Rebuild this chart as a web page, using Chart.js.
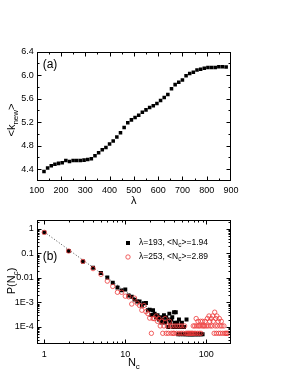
<!DOCTYPE html>
<html>
<head>
<meta charset="utf-8">
<script src="https://cdn.jsdelivr.net/npm/chart.js@4/dist/chart.umd.min.js"></script>
<style>
html, body { margin: 0; padding: 0; background: #fff; }
#wrap { position: relative; width: 291px; height: 376px; }
#boxA { position: absolute; left: 0; top: 0; width: 291px; height: 212px; }
#boxB { position: absolute; left: 0; top: 212px; width: 291px; height: 164px; }
</style>
</head>
<body>
<div id="wrap">
  <div id="boxA"><canvas id="chartA"></canvas></div>
  <div id="boxB"><canvas id="chartB"></canvas></div>
</div>
<script>
// panel (a): <k_new> vs lambda
const lam = [130, 145, 160, 175, 190, 205, 220, 235, 250, 265, 280, 295, 310, 325, 340, 355, 370, 385, 400, 415,
  430, 445, 460, 475, 490, 505, 520, 535, 550, 565, 580, 595, 610, 625, 640, 655, 670, 685, 700, 715,
  730, 745, 760, 775, 790, 805, 820, 835, 850, 865, 880];
const kNew = [4.36, 4.42, 4.46, 4.485, 4.50, 4.51, 4.55, 4.53, 4.55, 4.55, 4.55, 4.555, 4.565, 4.58, 4.63, 4.68, 4.73, 4.77, 4.83, 4.88,
  4.95, 5.02, 5.11, 5.19, 5.24, 5.28, 5.32, 5.37, 5.41, 5.45, 5.48, 5.52, 5.57, 5.62, 5.67, 5.77, 5.84, 5.88, 5.92, 5.99,
  6.03, 6.05, 6.09, 6.10, 6.12, 6.13, 6.13, 6.13, 6.145, 6.145, 6.14];
const xTicksA = [100, 200, 300, 400, 500, 600, 700, 800, 900];
const xMinorA = [150, 250, 350, 450, 550, 650, 750, 850];
const yTicksA = [4.4, 4.8, 5.2, 5.6, 6.0, 6.4];
const yMinorA = [4.2, 4.6, 5.0, 5.4, 5.8, 6.2];

// panel (b): P(N_c) vs N_c
const blackN = [1, 2, 3, 4, 5, 6, 7, 8, 9, 10, 11, 12, 13, 14, 15, 16, 17, 18, 19, 20,
  21, 22, 23, 24, 25, 26, 27, 28, 29, 30, 31, 32, 33, 34, 35, 36, 37, 38, 39, 40,
  41, 42, 43, 44, 45, 46, 47, 48, 49, 50, 52, 53, 55, 57, 58, 60, 62, 64, 66, 68, 70, 73, 76, 79, 82, 86, 90];
const blackP = [0.72, 0.125, 0.047, 0.026, 0.016, 0.0105, 0.0063, 0.0041, 0.0031, 0.0034, 0.0019, 0.0017, 0.0013, 0.0011, 0.0011, 0.00075, 0.00093, 0.00095, 0.00048, 0.0005,
  3.1e-4, 4.8e-4, 3.5e-4, 2.5e-4, 3e-4, 2e-4, 2.5e-4, 1.5e-4, 2e-4, 3e-4, 1.5e-4, 2.5e-4, 2e-4, 1e-4, 3.5e-4, 1.5e-4, 2e-4, 2.5e-4, 1e-4, 4e-4,
  1.5e-4, 4e-4, 1e-4, 1.5e-4, 5e-5, 2e-4, 1e-4, 5e-5, 1e-4, 1.5e-4, 5e-5, 1e-4, 5e-5, 2e-4, 5e-5, 5e-5, 5e-5, 5e-5, 5e-5, 5e-5, 5e-5, 5e-5, 5e-5, 5e-5, 5e-5, 5e-5, 5e-5];
const redN = [1, 2, 3, 4, 5, 6, 7, 8, 9, 10, 11, 12, 13, 14, 15, 16, 17, 18, 19, 20,
  21, 22, 23, 24, 25, 26, 27, 28, 29, 30, 31, 32, 33, 34, 35, 36, 37, 38, 39, 40,
  41, 43, 44, 46, 47, 49, 50, 52, 54, 56, 58, 60, 62, 64, 66, 68, 69, 71, 72, 74,
  75, 76, 78, 79, 80, 82, 83, 85, 86, 88, 90, 92, 95, 97, 100, 103, 105, 108, 110, 112,
  115, 118, 120, 122, 125, 127, 129, 131, 133, 135, 137, 140, 142, 145, 148, 150, 153, 156, 160, 165,
  170, 175, 180, 185];
const redP = [0.72, 0.125, 0.047, 0.024, 0.014, 0.0074, 0.0045, 0.0026, 0.0026, 0.0018, 0.0017, 0.00086, 0.0015, 0.00094, 0.00075, 0.00048, 0.00075, 0.00042, 0.00035, 0.00023,
  5.5e-5, 2.2e-4, 2.2e-4, 2.8e-4, 1.7e-4, 2.2e-4, 1.1e-4, 1.7e-4, 5.5e-5, 1.1e-4, 2.2e-4, 5.5e-5, 1.1e-4, 5.5e-5, 1.7e-4, 1.1e-4, 5.5e-5, 1.1e-4, 5.5e-5, 5.5e-5,
  1.1e-4, 5.5e-5, 1.1e-4, 5.5e-5, 1.1e-4, 5.5e-5, 1.1e-4, 5.5e-5, 1.1e-4, 5.5e-5, 5.5e-5, 5.5e-5, 5.5e-5, 5.5e-5, 5.5e-5, 5.5e-5, 1.1e-4, 5.5e-5, 1.1e-4, 5.5e-5,
  2.2e-4, 1.1e-4, 5.5e-5, 1.7e-4, 1.1e-4, 5.5e-5, 1.1e-4, 1.7e-4, 5.5e-5, 1.1e-4, 1.7e-4, 1.1e-4, 1.1e-4, 1.7e-4, 1.1e-4, 2.2e-4, 1.1e-4, 2.8e-4, 1.7e-4, 1.1e-4,
  2.2e-4, 1.1e-4, 2.8e-4, 1.7e-4, 5.5e-5, 4e-4, 1.1e-4, 2.2e-4, 5.5e-5, 2.8e-4, 1.1e-4, 1.7e-4, 5.5e-5, 2.2e-4, 1.1e-4, 5.5e-5, 1.7e-4, 1.1e-4, 5.5e-5, 1.1e-4,
  5.5e-5, 5.5e-5, 5.5e-5, 5.5e-5];
const fitN = [1, 30];
const fitP = [0.75, 2.1e-4];
const xTicksB = [1, 10, 100];
const yTicksB = [1e-4, 1e-3, 0.01, 0.1, 1];
const yLabelsB = {'0.0001': '1E-4', '0.001': '1E-3', '0.01': '0.01', '0.1': '0.1', '1': '1'};

const FONT = "'Liberation Sans', Arial, sans-serif";
const RED = '#ee3b3b';

function minorLog(lo, hi) {
  const out = [];
  for (let d = lo; d <= hi; d *= 10) {
    for (let m = 2; m <= 9; m++) out.push(m * d);
  }
  return out;
}

function pts(xs, ys) {
  return xs.map((v, i) => ({x: v, y: ys[i]}));
}

// text with subscript parts: [[text, isSub], ...]
function partsWidth(ctx, parts, size, sub) {
  let w = 0;
  parts.forEach(p => {
    ctx.font = (p[1] ? sub : size) + 'px ' + FONT;
    w += ctx.measureText(p[0]).width;
  });
  return w;
}
function drawParts(ctx, x, y, parts, size, sub) {
  ctx.textBaseline = 'middle';
  ctx.textAlign = 'left';
  parts.forEach(p => {
    ctx.font = (p[1] ? sub : size) + 'px ' + FONT;
    ctx.fillText(p[0], x, p[1] ? y + size * 0.3 : y);
    x += ctx.measureText(p[0]).width;
  });
}

const framePlugin = {
  id: 'frame',
  afterDatasetsDraw(chart, args, o) {
    const {ctx, chartArea: a} = chart;
    const sx = chart.scales.x, sy = chart.scales.y;
    const L = Math.round(a.left) + 0.5, R = Math.round(a.right) - 0.5;
    const T = Math.round(a.top) + 0.5, B = Math.round(a.bottom) - 0.5;
    ctx.save();
    ctx.strokeStyle = '#000';
    ctx.lineWidth = 1;
    ctx.strokeRect(L, T, R - L, B - T);
    ctx.beginPath();
    const xt = (vals, len) => vals.forEach(v => {
      const p = Math.round(sx.getPixelForValue(v)) + 0.5;
      if (p < L || p > R) return;
      ctx.moveTo(p, B); ctx.lineTo(p, B - len);
      ctx.moveTo(p, T); ctx.lineTo(p, T + len);
    });
    const yt = (vals, len) => vals.forEach(v => {
      const p = Math.round(sy.getPixelForValue(v)) + 0.5;
      if (p < T || p > B) return;
      ctx.moveTo(L, p); ctx.lineTo(L + len, p);
      ctx.moveTo(R, p); ctx.lineTo(R - len, p);
    });
    xt(o.xMajor, 4); xt(o.xMinor, 2);
    yt(o.yMajor, 4); yt(o.yMinor, 2);
    ctx.stroke();
    ctx.restore();
  },
  afterDraw(chart, args, o) {
    const {ctx, chartArea: a} = chart;
    ctx.save();
    ctx.fillStyle = '#000';
    // panel tag
    ctx.font = '12px ' + FONT;
    ctx.textAlign = 'left';
    ctx.textBaseline = 'middle';
    ctx.fillText(o.tag, a.left + 6, a.top + o.tagDy);
    // x title
    const xw = partsWidth(ctx, o.xTitle, 11, 8);
    drawParts(ctx, (a.left + a.right) / 2 - xw / 2, a.bottom + o.xTitleDy, o.xTitle, 11, 8);
    // y title (rotated)
    ctx.save();
    ctx.translate(12, o.yTitleY);
    ctx.rotate(-Math.PI / 2);
    const yw = partsWidth(ctx, o.yTitle, 11, 8);
    drawParts(ctx, -yw / 2, 0, o.yTitle, 11, 8);
    ctx.restore();
    // legend
    if (o.legend) {
      o.legend.forEach(item => {
        const y = item.y;
        if (item.marker === 'square') {
          ctx.fillStyle = '#000';
          ctx.fillRect(126, y - 2, 4, 4);
        } else {
          ctx.strokeStyle = RED;
          ctx.lineWidth = 0.8;
          ctx.beginPath();
          ctx.arc(128, y, 2.2, 0, Math.PI * 2);
          ctx.stroke();
        }
        ctx.fillStyle = '#000';
        drawParts(ctx, 139, y, item.parts, 8.5, 6.5);
      });
    }
    ctx.restore();
  }
};

const tickFont = {family: FONT, size: 9};

new Chart(document.getElementById('chartA'), {
  type: 'scatter',
  data: {
    datasets: [{
      data: pts(lam, kNew),
      pointStyle: 'rect',
      pointRadius: 2.5,
      backgroundColor: '#000',
      borderWidth: 0
    }]
  },
  options: {
    responsive: true,
    maintainAspectRatio: false,
    animation: false,
    events: [],
    layout: {padding: {top: 51.7, right: 60, left: 0, bottom: 0}},
    scales: {
      x: {
        type: 'linear', min: 100, max: 900,
        afterBuildTicks: s => { s.ticks = xTicksA.map(v => ({value: v})); },
        afterFit: s => { s.height = 31; },
        grid: {display: false, drawTicks: false},
        border: {display: false},
        ticks: {font: tickFont, color: '#000', padding: 4, maxRotation: 0, autoSkip: false}
      },
      y: {
        type: 'linear', min: 4.2, max: 6.4,
        afterBuildTicks: s => { s.ticks = yTicksA.map(v => ({value: v})); },
        afterFit: s => { s.width = 36.7; },
        grid: {display: false, drawTicks: false},
        border: {display: false},
        ticks: {font: tickFont, color: '#000', padding: 3, autoSkip: false,
          callback: v => Number(v).toFixed(1)}
      }
    },
    plugins: {
      legend: {display: false},
      tooltip: {enabled: false},
      frame: {
        xMajor: xTicksA, xMinor: xMinorA, yMajor: yTicksA, yMinor: yMinorA,
        tag: '(a)', tagDy: 13,
        xTitle: [['λ', false]], xTitleDy: 20,
        yTitle: [['<k', false], ['new', true], ['>', false]], yTitleY: 120
      }
    }
  },
  plugins: [framePlugin]
});

new Chart(document.getElementById('chartB'), {
  type: 'scatter',
  data: {
    datasets: [{
      data: pts(redN, redP),
      order: 0,
      pointStyle: 'circle',
      pointRadius: 2.2,
      backgroundColor: 'rgba(0,0,0,0)',
      borderColor: RED,
      borderWidth: 0.8
    }, {
      data: pts(blackN, blackP),
      order: 1,
      pointStyle: 'rect',
      pointRadius: 2.8,
      backgroundColor: '#000',
      borderWidth: 0
    }, {
      type: 'line',
      data: pts(fitN, fitP),
      order: 2,
      borderColor: '#444',
      borderWidth: 1,
      borderDash: [1, 2],
      pointRadius: 0,
      fill: false
    }]
  },
  options: {
    responsive: true,
    maintainAspectRatio: false,
    animation: false,
    events: [],
    layout: {padding: {top: 1.3, right: 60, left: 0, bottom: 0}},
    scales: {
      x: {
        type: 'logarithmic', min: 0.806, max: 201.8,
        afterBuildTicks: s => { s.ticks = xTicksB.map(v => ({value: v})); },
        afterFit: s => { s.height = 31.7; },
        grid: {display: false, drawTicks: false},
        border: {display: false},
        ticks: {font: tickFont, color: '#000', padding: 5, maxRotation: 0, autoSkip: false,
          callback: v => String(v)}
      },
      y: {
        type: 'logarithmic', min: 1.96e-5, max: 2.22,
        afterBuildTicks: s => { s.ticks = yTicksB.map(v => ({value: v})); },
        afterFit: s => { s.width = 36.7; },
        grid: {display: false, drawTicks: false},
        border: {display: false},
        ticks: {font: tickFont, color: '#000', padding: 3, autoSkip: false,
          callback: v => yLabelsB[String(v)] || ''}
      }
    },
    plugins: {
      legend: {display: false},
      tooltip: {enabled: false},
      frame: {
        xMajor: xTicksB, xMinor: minorLog(1, 100), yMajor: yTicksB, yMinor: minorLog(1e-5, 1),
        tag: '(b)', tagDy: 36,
        xTitle: [['N', false], ['c', true]], xTitleDy: 19,
        yTitle: [['P(N', false], ['c', true], [')', false]], yTitleY: 69,
        legend: [
          {marker: 'square', y: 31, parts: [['λ=193, <N', false], ['c', true], ['>=1.94', false]]},
          {marker: 'circle', y: 45, parts: [['λ=253, <N', false], ['c', true], ['>=2.89', false]]}
        ]
      }
    }
  },
  plugins: [framePlugin]
});
</script>
</body>
</html>
